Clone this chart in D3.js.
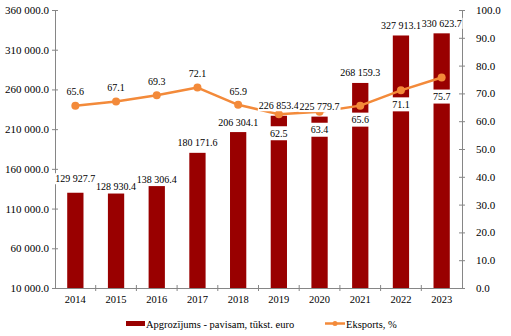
<!DOCTYPE html>
<html>
<head>
<meta charset="utf-8">
<script src="https://cdn.jsdelivr.net/npm/d3@7"></script>
<style>
  html, body { margin: 0; padding: 0; background: #fff; }
  svg text { font-family: "Liberation Serif", "Times New Roman", serif; }
</style>
</head>
<body>
<svg id="chart" width="511" height="336"></svg>
<script>
// Turnover (thousand euro) and export share (%) by year
const years = ["2014", "2015", "2016", "2017", "2018", "2019", "2020", "2021", "2022", "2023"];
const turnover = [129927.7, 128930.4, 138306.4, 180171.6, 206304.1, 226853.4, 225779.7, 268159.3, 327913.1, 330623.7];
const exportShare = [65.6, 67.1, 69.3, 72.1, 65.9, 62.5, 63.4, 65.6, 71.1, 75.7];
const leftTicks = [10000, 60000, 110000, 160000, 210000, 260000, 310000, 360000];
const rightTicks = [0, 10, 20, 30, 40, 50, 60, 70, 80, 90, 100];
const seriesNames = ["Apgrozījums - pavisam, tūkst. euro", "Eksports, %"];

const barColor = "#990000";
const lineColor = "#F38A3A";
const axisColor = "#868686";
const tickFont = 11;
const yearFont = 10.5;
const labelFont = 10;
const serif = "Liberation Serif";

const svg = d3.select("#chart");
const plot = { left: 55, right: 462, top: 10, bottom: 288 };

const loc = d3.formatLocale({ decimal: ".", thousands: " ", grouping: [3], currency: ["", ""] });
const fmtBig = loc.format(",.1f");
const fmtPct = d3.format(".1f");

const x = d3.scaleBand().domain(years).range([plot.left, plot.right]).paddingInner(0.6).paddingOuter(0.3);
const yL = d3.scaleLinear().domain([10000, 360000]).range([plot.bottom, plot.top]);
const yR = d3.scaleLinear().domain([0, 100]).range([plot.bottom, plot.top]);
const cx = d => x(d) + x.bandwidth() / 2;

// Bars
svg.append("g").selectAll("rect").data(years).join("rect")
  .attr("x", d => x(d))
  .attr("width", x.bandwidth())
  .attr("y", (d, i) => yL(turnover[i]))
  .attr("height", (d, i) => yL(10000) - yL(turnover[i]))
  .attr("fill", barColor);

// Axes
function styleAxis(g, size) {
  g.attr("font-family", serif).attr("font-size", size);
  g.select(".domain").attr("stroke", axisColor).attr("stroke-width", 1);
  g.selectAll(".tick line").attr("stroke", axisColor);
  g.selectAll(".tick text").attr("fill", "#000");
}

const leftAxis = svg.append("g").attr("transform", `translate(${plot.left},0)`)
  .call(d3.axisLeft(yL).tickValues(leftTicks).tickFormat(fmtBig).tickSizeInner(4).tickSizeOuter(0).tickPadding(2));
leftAxis.selectAll(".tick line").attr("x2", 3).attr("x1", -3);
styleAxis(leftAxis, tickFont);

const rightAxis = svg.append("g").attr("transform", `translate(${plot.right},0)`)
  .call(d3.axisRight(yR).tickValues(rightTicks).tickFormat(fmtPct).tickSizeInner(4).tickSizeOuter(0).tickPadding(10));
rightAxis.selectAll(".tick line").attr("x1", -3).attr("x2", 3);
styleAxis(rightAxis, tickFont);

// Category axis with cross ticks at category boundaries
const xAxis = svg.append("g").attr("transform", `translate(0,${plot.bottom})`)
  .call(d3.axisBottom(x).tickSize(0).tickPadding(8));
styleAxis(xAxis, yearFont);
const step = x.step();
const boundaries = d3.range(1, years.length).map(i => plot.left + i * step);
xAxis.selectAll(".boundary").data(boundaries).join("line")
  .attr("class", "boundary")
  .attr("x1", d => d).attr("x2", d => d)
  .attr("y1", -3).attr("y2", 3)
  .attr("stroke", axisColor);

// Export share line
const line = d3.line().x((d, i) => cx(years[i])).y(d => yR(d));
svg.append("path").datum(exportShare)
  .attr("d", line)
  .attr("fill", "none")
  .attr("stroke", lineColor)
  .attr("stroke-width", 2.5)
  .attr("stroke-linejoin", "round");
svg.append("g").selectAll("circle").data(exportShare).join("circle")
  .attr("cx", (d, i) => cx(years[i]))
  .attr("cy", d => yR(d))
  .attr("r", 4)
  .attr("fill", lineColor);

// Data labels on white boxes, drawn over the series
function label(g, tx, ty, text, halfBox) {
  const t = g.append("text")
    .attr("x", tx).attr("y", ty)
    .attr("text-anchor", "middle")
    .attr("dominant-baseline", "central")
    .attr("font-family", serif)
    .attr("font-size", labelFont)
    .attr("fill", "#000")
    .text(text);
  const b = t.node().getBBox();
  g.insert("rect", "text")
    .attr("x", b.x - 1).attr("y", ty - halfBox)
    .attr("width", b.width + 2).attr("height", halfBox * 2)
    .attr("fill", "#fff");
}

// Vertical nudges for individual labels (px), where labels were moved off their default spot
const barLabelNudge = [-4, 3, 3, 0, 0, 0, 0, 0, 0, 0];
const lineLabelOffset = [-14, -14, -14, -14, -13, 19, 18, 14, 14, 19];

const labels = svg.append("g");
years.forEach((yr, i) => {
  label(labels.append("g"), cx(yr), yL(turnover[i]) - 10 + barLabelNudge[i], fmtBig(turnover[i]), 5.5);
});
years.forEach((yr, i) => {
  label(labels.append("g"), cx(yr), yR(exportShare[i]) + lineLabelOffset[i], fmtPct(exportShare[i]), 7);
});

// Legend
const lg = svg.append("g").attr("font-family", serif).attr("font-size", yearFont);
lg.append("rect").attr("x", 126).attr("y", 321).attr("width", 19).attr("height", 5).attr("fill", barColor);
lg.append("text").attr("x", 146).attr("y", 324).attr("dominant-baseline", "central").text(seriesNames[0]);
lg.append("line").attr("x1", 325).attr("x2", 345).attr("y1", 323.5).attr("y2", 323.5)
  .attr("stroke", lineColor).attr("stroke-width", 2.5);
lg.append("circle").attr("cx", 335).attr("cy", 323.5).attr("r", 2.5).attr("fill", lineColor);
lg.append("text").attr("x", 346).attr("y", 324).attr("dominant-baseline", "central").text(seriesNames[1]);
</script>
</body>
</html>
